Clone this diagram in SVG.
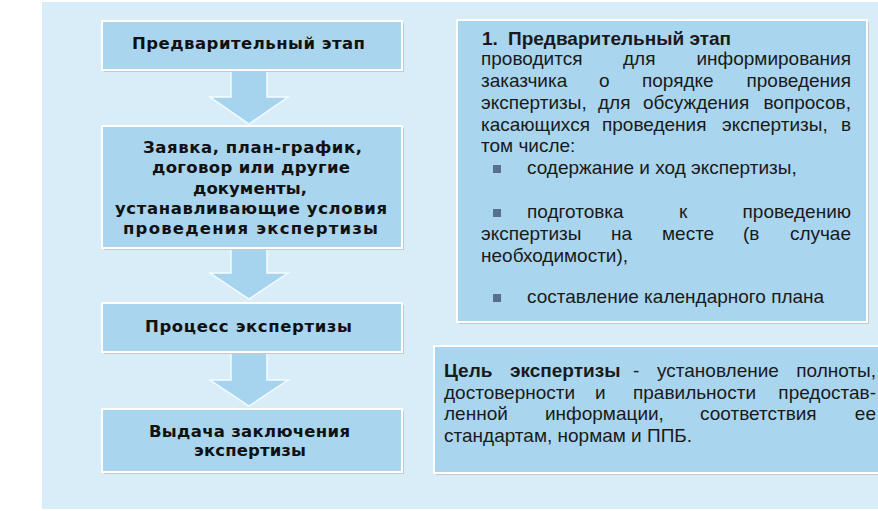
<svg xmlns="http://www.w3.org/2000/svg" width="878" height="511" viewBox="0 0 878 511">
<style>
.box{fill:#a9d5ee;stroke:#ffffff;stroke-width:2}
.shadow{fill:#c4c8cc}
.arrow{fill:#a6d4ef;stroke:#f4fbff;stroke-width:1.5}
.lt{font-family:"DejaVu Sans",sans-serif;font-weight:bold;font-size:16.5px;fill:#111111}
.rt{font-family:"Liberation Sans",Arial,sans-serif;font-size:19px;fill:#1a1a1a}
.b{font-weight:bold}
.bul{fill:#56708e}
</style>
<rect x="42" y="2" width="836" height="507" fill="#d9edf9"/>

<g id="connectors">
<polygon class="arrow" points="231,71 267,71 267,97 288,97 249,124 210,97 231,97"/>
<polygon class="arrow" points="231,249 267,249 267,273 288,273 249,299 210,273 231,273"/>
<polygon class="arrow" points="231,353 267,353 267,380 288,380 249,406 210,380 231,380"/>
</g>

<g id="node-prelim">
<rect class="shadow" x="104" y="23" width="300" height="49"/>
<rect class="box" x="102" y="21" width="300" height="49"/>
<text class="lt" x="132" y="49" textLength="233" lengthAdjust="spacing">Предварительный этап</text>
</g>

<g id="node-docs">
<rect class="shadow" x="104" y="128" width="300" height="122"/>
<rect class="box" x="102" y="126" width="300" height="122"/>
<text class="lt" x="143" y="153" textLength="219" lengthAdjust="spacing">Заявка, план-график,</text>
<text class="lt" x="152" y="173" textLength="198" lengthAdjust="spacing">договор или другие</text>
<text class="lt" x="193" y="193.5" textLength="114" lengthAdjust="spacing">документы,</text>
<text class="lt" x="115" y="214" textLength="272" lengthAdjust="spacing">устанавливающие условия</text>
<text class="lt" x="123" y="234" textLength="255" lengthAdjust="spacing">проведения экспертизы</text>
</g>

<g id="node-process">
<rect class="shadow" x="104" y="305" width="300" height="49"/>
<rect class="box" x="102" y="303" width="300" height="49"/>
<text class="lt" x="145" y="332" textLength="207" lengthAdjust="spacing">Процесс экспертизы</text>
</g>

<g id="node-conclusion">
<rect class="shadow" x="104" y="411" width="300" height="63"/>
<rect class="box" x="102" y="409" width="300" height="63"/>
<text class="lt" x="149" y="437" textLength="201" lengthAdjust="spacing">Выдача заключения</text>
<text class="lt" x="194" y="456" textLength="112" lengthAdjust="spacing">экспертизы</text>
</g>

<g id="node-stage-desc">
<rect class="shadow" x="459" y="22" width="410" height="302"/>
<rect class="box" x="457" y="20" width="410" height="302"/>
<text class="rt b" y="45"><tspan x="482">1.</tspan><tspan x="508">Предварительный этап</tspan></text>
<text class="rt" y="65"><tspan x="481">проводится</tspan><tspan x="623">для</tspan><tspan x="851" text-anchor="end">информирования</tspan></text>
<text class="rt" y="87"><tspan x="481">заказчика</tspan><tspan x="599">о</tspan><tspan x="642">порядке</tspan><tspan x="851" text-anchor="end">проведения</tspan></text>
<text class="rt" y="109"><tspan x="481">экспертизы,</tspan><tspan x="598">для</tspan><tspan x="643">обсуждения</tspan><tspan x="851" text-anchor="end">вопросов,</tspan></text>
<text class="rt" y="131"><tspan x="481">касающихся</tspan><tspan x="602">проведения</tspan><tspan x="722">экспертизы,</tspan><tspan x="851" text-anchor="end">в</tspan></text>
<text class="rt" y="152" x="481">том числе:</text>
<rect class="bul" x="493" y="165" width="8" height="8"/>
<text class="rt" y="174" x="527">содержание и ход экспертизы,</text>
<rect class="bul" x="493" y="209" width="8" height="8"/>
<text class="rt" y="218"><tspan x="527">подготовка</tspan><tspan x="679">к</tspan><tspan x="851" text-anchor="end">проведению</tspan></text>
<text class="rt" y="240"><tspan x="481">экспертизы</tspan><tspan x="611">на</tspan><tspan x="662">месте</tspan><tspan x="743">(в</tspan><tspan x="851" text-anchor="end">случае</tspan></text>
<text class="rt" y="262" x="481">необходимости),</text>
<rect class="bul" x="493" y="294" width="8" height="8"/>
<text class="rt" y="303" x="527">составление календарного плана</text>
</g>

<g id="node-goal">
<rect class="shadow" x="436" y="348" width="450" height="127"/>
<rect class="box" x="434" y="346" width="450" height="127"/>
<text class="rt" y="377"><tspan x="444" class="b">Цель</tspan><tspan x="510" class="b">экспертизы</tspan><tspan x="633">-</tspan><tspan x="657">установление</tspan><tspan x="876" text-anchor="end">полноты,</tspan></text>
<text class="rt" y="399"><tspan x="444">достоверности</tspan><tspan x="595">и</tspan><tspan x="633">правильности</tspan><tspan x="876" text-anchor="end">предостав-</tspan></text>
<text class="rt" y="420"><tspan x="444">ленной</tspan><tspan x="545">информации,</tspan><tspan x="700">соответствия</tspan><tspan x="876" text-anchor="end">ее</tspan></text>
<text class="rt" y="442" x="444">стандартам, нормам и ППБ.</text>
</g>
</svg>
